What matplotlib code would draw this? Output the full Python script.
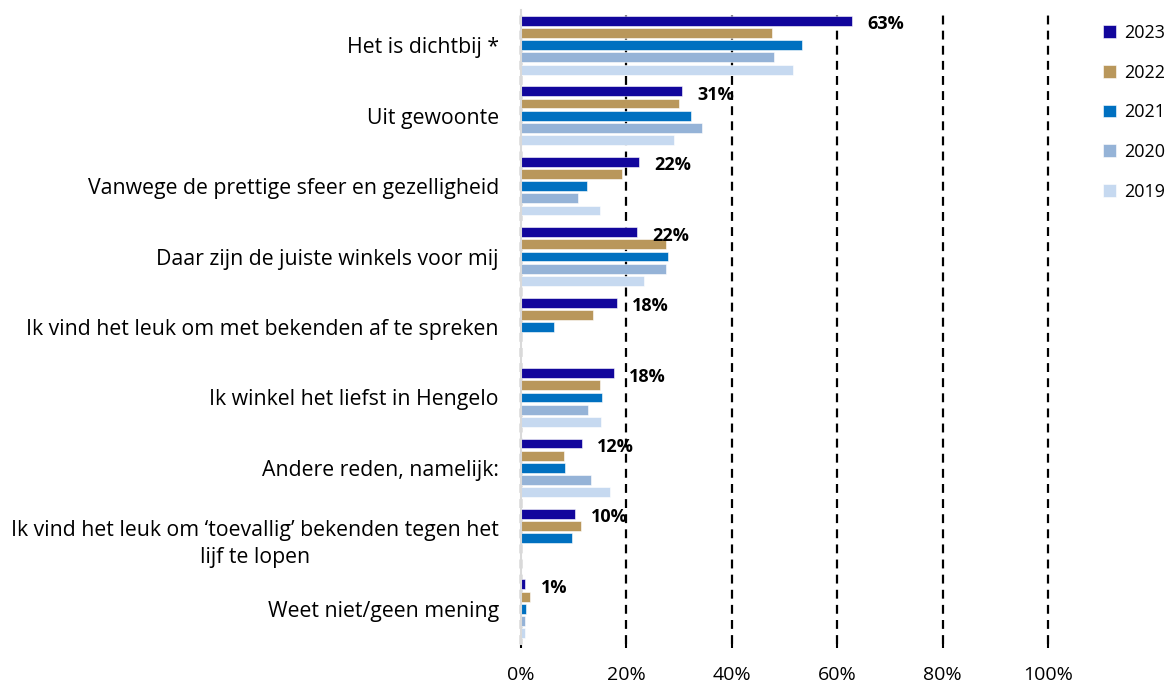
import matplotlib.pyplot as plt
import numpy as np
from matplotlib.ticker import FuncFormatter

plt.rcParams["font.family"] = ["Open Sans", "DejaVu Sans"]

categories = [
    "Het is dichtbij *",
    "Uit gewoonte",
    "Vanwege de prettige sfeer en gezelligheid",
    "Daar zijn de juiste winkels voor mij",
    "Ik vind het leuk om met bekenden af te spreken",
    "Ik winkel het liefst in Hengelo",
    "Andere reden, namelijk:",
    "Ik vind het leuk om \u2018toevallig\u2019 bekenden tegen het\nlijf te lopen",
    "Weet niet/geen mening",
]

years = ["2023", "2022", "2021", "2020", "2019"]
v2023 = [62.8, 30.6, 22.3, 22.0, 18.2, 17.6, 11.6, 10.3, 0.8]
v2022 = [47.6, 29.9, 19.2, 27.5, 13.7, 14.9, 8.2, 11.3, 1.8]
v2021 = [53.3, 32.2, 12.6, 27.8, 6.3, 15.4, 8.3, 9.7, 0.9]
v2020 = [48.1, 34.4, 10.8, 27.5, np.nan, 12.7, 13.2, np.nan, 0.8]
v2019 = [51.7, 29.0, 14.9, 23.3, np.nan, 15.2, 16.8, np.nan, 0.7]
series = [v2023, v2022, v2021, v2020, v2019]
colors = ["#12069c", "#b9975b", "#0070c0", "#95b3d7", "#c6d9f0"]

fig = plt.figure(figsize=(11.75, 6.86), dpi=100)
ax = fig.add_axes([521 / 1175, 1 - 644 / 686, 527 / 1175, 634 / 686])

y = np.arange(len(categories))
step = 0.173
for k, (vals, col, yr) in enumerate(zip(series, colors, years)):
    ax.barh(y + (k - 2) * step, vals, height=0.14, color=col, label=yr,
            edgecolor="white", linewidth=0.4)

# percentage labels next to the 2023 bars
for i, v in enumerate(v2023):
    ax.annotate(f"{round(v)}%", (v, y[i] - 2 * step), xytext=(11, -2.5),
                textcoords="offset points", ha="left", va="center",
                fontsize=13, fontweight="bold")

ax.set_xlim(0, 100)
ax.set_ylim(len(categories) - 0.5, -0.5)
ax.set_xticks(range(0, 101, 20))
ax.xaxis.set_major_formatter(FuncFormatter(lambda x, _: f"{x:.0f}%"))
ax.set_yticks(y)
ax.set_yticklabels(categories, multialignment="center", linespacing=1.37)

ax.grid(axis="x", color="black", linestyle=(0, (4, 2.8)), linewidth=1.6)
for gl in ax.get_xgridlines():
    gl.set_clip_on(False)
ax.set_axisbelow(True)
for s in ["top", "right", "bottom"]:
    ax.spines[s].set_visible(False)
ax.spines["left"].set_color("#d9d9d9")
ax.spines["left"].set_linewidth(1.5)

ax.tick_params(axis="y", length=0, pad=16, labelsize=15.3)
ax.tick_params(axis="x", length=3, width=1.5, pad=13, labelsize=14)

fig.legend(loc="upper left", bbox_to_anchor=(1103 / 1175, 1 - 24 / 686),
           frameon=False, fontsize=13, handlelength=0.7, handleheight=0.7,
           handletextpad=0.45, labelspacing=1.2, borderpad=0, borderaxespad=0)

plt.savefig("out.png", dpi=100)
